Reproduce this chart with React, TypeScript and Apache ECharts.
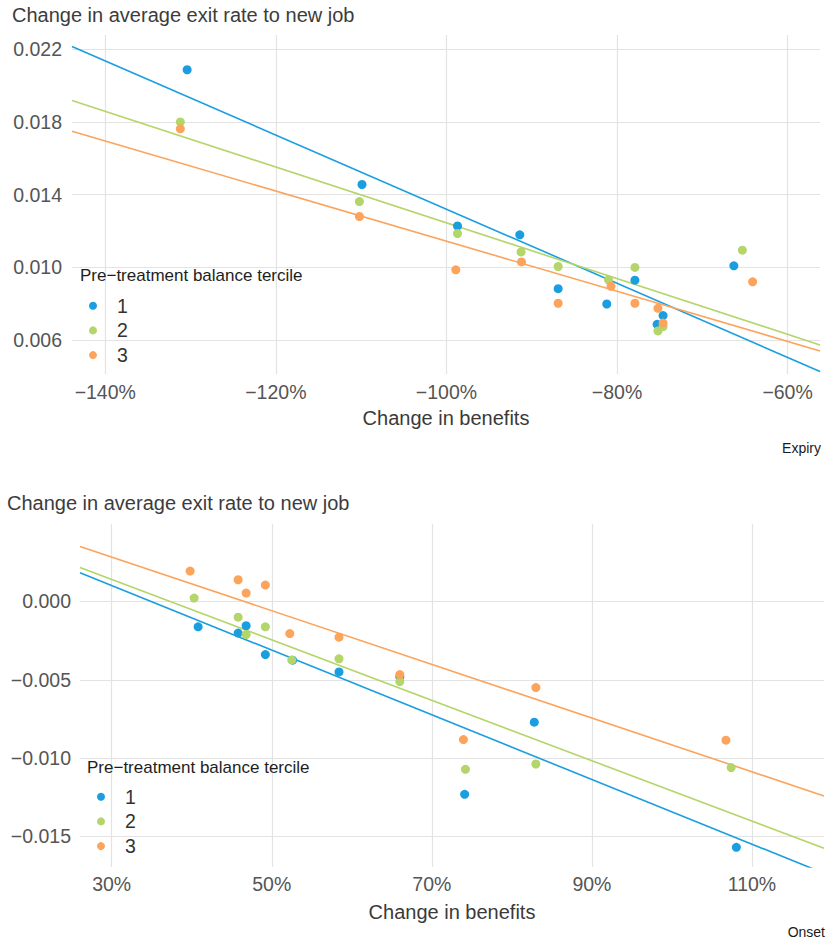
import React, { useEffect, useRef } from "react";
import * as echarts from "echarts";

const terciles = ["1", "2", "3"];
const colors = ["#1a9ee0", "#b3d56a", "#fca35c"];

// Expiry panel (top)
const expiryBenefits1 = [-130.4, -109.9, -98.7, -91.4, -86.9, -81.2, -77.9, -74.6, -75.3, -66.3];
const expiryExit1 = [0.02087, 0.01456, 0.01228, 0.01179, 0.00883, 0.00799, 0.0093, 0.00735, 0.00687, 0.01009];
const expiryBenefits2 = [-131.2, -110.2, -98.7, -91.25, -86.9, -81.0, -77.9, -75.2, -74.6, -65.3];
const expiryExit2 = [0.018, 0.01362, 0.01186, 0.01085, 0.01005, 0.00932, 0.01, 0.00651, 0.00675, 0.01095];
const expiryBenefits3 = [-131.2, -110.2, -98.9, -91.2, -86.9, -80.7, -77.9, -75.2, -74.6, -64.1];
const expiryExit3 = [0.01762, 0.0128, 0.00987, 0.0103, 0.00803, 0.00896, 0.00803, 0.00775, 0.00694, 0.00921];
const expiryFitX = [-143.9, -56.2];
const expiryFit1 = [0.02215, 0.00428];
const expiryFit2 = [0.01918, 0.00574];
const expiryFit3 = [0.01749, 0.00541];
const expiryXTicks = [-140, -120, -100, -80, -60];
const expiryYTicks = [0.006, 0.01, 0.014, 0.018, 0.022];

// Onset panel (bottom)
const onsetBenefits1 = [40.8, 45.8, 46.8, 49.2, 52.6, 58.4, 66.0, 74.1, 82.8, 108.05];
const onsetExit1 = [-0.00162, -0.00202, -0.00155, -0.00339, -0.00375, -0.0045, -0.0048, -0.01232, -0.00771, -0.0157];
const onsetBenefits2 = [40.3, 45.8, 46.8, 49.2, 52.5, 58.4, 66.0, 74.2, 83.0, 107.4];
const onsetExit2 = [0.00022, -0.001, -0.00211, -0.00162, -0.00373, -0.00366, -0.00511, -0.01072, -0.01038, -0.01061];
const onsetBenefits3 = [39.8, 45.8, 46.8, 49.2, 52.25, 58.4, 66.0, 73.95, 83.0, 106.75];
const onsetExit3 = [0.00194, 0.00139, 0.00054, 0.00105, -0.00205, -0.00228, -0.00467, -0.00882, -0.0055, -0.00886];
const onsetFitX = [26.04, 119.0];
const onsetFit1 = [0.00184, -0.01736];
const onsetFit2 = [0.00217, -0.01577];
const onsetFit3 = [0.00352, -0.01242];
const onsetXTicks = [30, 50, 70, 90, 110];
const onsetYTicks = [-0.015, -0.01, -0.005, 0.0];

const FONT = "'Liberation Sans', Arial, Helvetica, sans-serif";
const MINUS = "\u2212";

const pctFmt = (v: number) => `${v < 0 ? MINUS : ""}${Math.abs(Math.round(v))}%`;
const numFmt = (v: number) => `${v < -1e-9 ? MINUS : ""}${Math.abs(v).toFixed(3)}`;

const zip = (xs: number[], ys: number[]) => xs.map((x, i) => [x, ys[i]]);

function makeXAxis(gridIndex: number, min: number, max: number, ticks: number[], margin: number, nameGap: number) {
  return {
    type: "value",
    gridIndex,
    min,
    max,
    name: "Change in benefits",
    nameLocation: "middle",
    nameGap,
    nameTextStyle: { fontSize: 20, color: "#3a3a3a", fontFamily: FONT },
    axisLine: { show: false },
    axisTick: { show: false, customValues: ticks },
    axisLabel: {
      customValues: ticks,
      formatter: pctFmt,
      fontSize: 19.5,
      color: "#555555",
      fontFamily: FONT,
      margin,
    },
    splitLine: { show: true, lineStyle: { color: "#e3e3e3", width: 1.2 } },
  };
}

function makeYAxis(gridIndex: number, min: number, max: number, ticks: number[], margin: number) {
  return {
    type: "value",
    gridIndex,
    min,
    max,
    axisLine: { show: false },
    axisTick: { show: false, customValues: ticks },
    axisLabel: {
      customValues: ticks,
      formatter: numFmt,
      fontSize: 19.5,
      color: "#555555",
      fontFamily: FONT,
      margin,
    },
    splitLine: { show: true, lineStyle: { color: "#e3e3e3", width: 1.2 } },
  };
}

function panelSeries(idx: number, xs: number[][], ys: number[][], fitX: number[], fits: number[][]) {
  const out: any[] = [];
  terciles.forEach((t, i) => {
    out.push({
      type: "line",
      name: `fit-${t}`,
      xAxisIndex: idx,
      yAxisIndex: idx,
      data: zip(fitX, fits[i]),
      showSymbol: false,
      symbol: "none",
      silent: true,
      z: 2,
      lineStyle: { color: colors[i], width: 1.6 },
      itemStyle: { color: colors[i] },
    });
  });
  terciles.forEach((t, i) => {
    out.push({
      type: "scatter",
      name: t,
      xAxisIndex: idx,
      yAxisIndex: idx,
      data: zip(xs[i], ys[i]),
      symbol: "circle",
      symbolSize: 9,
      z: 3,
      itemStyle: { color: colors[i], opacity: 1 },
    });
  });
  return out;
}

function legendFor(left: number, top: number) {
  return {
    orient: "vertical",
    left,
    top,
    data: terciles,
    icon: "circle",
    itemWidth: 38,
    itemHeight: 8,
    itemGap: 4.7,
    padding: 0,
    selectedMode: false,
    textStyle: { fontSize: 19.5, color: "#333333", fontFamily: FONT, lineHeight: 20 },
  };
}

export default function App() {
  const ref = useRef<HTMLDivElement>(null);
  useEffect(() => {
    if (!ref.current) return;
    const chart = echarts.init(ref.current, undefined, { renderer: "svg" });
    const option: any = {
      animation: false,
      backgroundColor: "#ffffff",
      textStyle: { fontFamily: FONT },
      grid: [
        { left: 72, right: 7, top: 35, bottom: 943 - 374, containLabel: false },
        { left: 80, right: 3, top: 524, bottom: 943 - 867, containLabel: false },
      ],
      xAxis: [
        makeXAxis(0, expiryFitX[0], expiryFitX[1], expiryXTicks, 8, 34),
        makeXAxis(1, onsetFitX[0], onsetFitX[1], onsetXTicks, 7, 35),
      ],
      yAxis: [
        makeYAxis(0, 0.00414, 0.02278, expiryYTicks, 10),
        makeYAxis(1, -0.01696, 0.00495, onsetYTicks, 9),
      ],
      legend: [legendFor(89, 295.7), legendFor(97, 786.7)],
      series: [
        ...panelSeries(
          0,
          [expiryBenefits1, expiryBenefits2, expiryBenefits3],
          [expiryExit1, expiryExit2, expiryExit3],
          expiryFitX,
          [expiryFit1, expiryFit2, expiryFit3]
        ),
        ...panelSeries(
          1,
          [onsetBenefits1, onsetBenefits2, onsetBenefits3],
          [onsetExit1, onsetExit2, onsetExit3],
          onsetFitX,
          [onsetFit1, onsetFit2, onsetFit3]
        ),
      ],
      graphic: [
        {
          type: "text",
          x: 12,
          y: 15,
          style: {
            text: "Change in average exit rate to new job",
            fill: "#3c3c3c",
            fontSize: 20,
            fontFamily: FONT,
            verticalAlign: "middle",
          },
        },
        {
          type: "text",
          x: 7,
          y: 503,
          style: {
            text: "Change in average exit rate to new job",
            fill: "#3c3c3c",
            fontSize: 20,
            fontFamily: FONT,
            verticalAlign: "middle",
          },
        },
        {
          type: "text",
          x: 80,
          y: 275.5,
          z: 10,
          style: {
            text: "Pre\u2212treatment balance tercile",
            fill: "#1e1e1e",
            fontSize: 17,
            fontFamily: FONT,
            verticalAlign: "middle",
          },
        },
        {
          type: "text",
          x: 87,
          y: 767.5,
          z: 10,
          style: {
            text: "Pre\u2212treatment balance tercile",
            fill: "#1e1e1e",
            fontSize: 17,
            fontFamily: FONT,
            verticalAlign: "middle",
          },
        },
        {
          type: "text",
          x: 821,
          y: 448,
          style: {
            text: "Expiry",
            fill: "#1a1a1a",
            fontSize: 14,
            fontFamily: FONT,
            align: "right",
            verticalAlign: "middle",
          },
        },
        {
          type: "text",
          x: 825,
          y: 932,
          style: {
            text: "Onset",
            fill: "#1a1a1a",
            fontSize: 14,
            fontFamily: FONT,
            align: "right",
            verticalAlign: "middle",
          },
        },
      ],
    };
    chart.setOption(option);
    return () => chart.dispose();
  }, []);
  return (
    <div
      ref={ref}
      style={{ position: "fixed", left: 0, top: 0, width: 827, height: 943, background: "#fff" }}
    />
  );
}
